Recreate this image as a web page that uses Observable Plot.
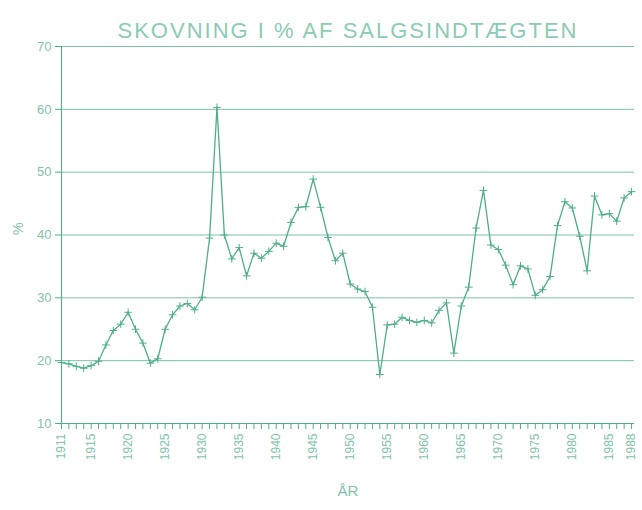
<!DOCTYPE html>
<html><head><meta charset="utf-8">
<script src="https://cdn.jsdelivr.net/npm/d3@7"></script>
<script src="https://cdn.jsdelivr.net/npm/@observablehq/plot@0.6"></script>
<style>body{margin:0;background:#fff}</style></head>
<body><div id="chart"></div>
<script>
const years = [1911,1912,1913,1914,1915,1916,1917,1918,1919,1920,
  1921,1922,1923,1924,1925,1926,1927,1928,1929,1930,
  1931,1932,1933,1934,1935,1936,1937,1938,1939,1940,
  1941,1942,1943,1944,1945,1946,1947,1948,1949,1950,
  1951,1952,1953,1954,1955,1956,1957,1958,1959,1960,
  1961,1962,1963,1964,1965,1966,1967,1968,1969,1970,
  1971,1972,1973,1974,1975,1976,1977,1978,1979,1980,
  1981,1982,1983,1984,1985,1986,1987,1988];
const values = [19.7,19.5,19.1,18.8,19.2,19.9,22.5,24.8,25.8,27.7,
  25.0,22.8,19.6,20.3,25.0,27.3,28.7,29.1,28.1,30.1,
  39.5,60.3,40.0,36.2,38.0,33.5,37.1,36.3,37.4,38.7,
  38.2,42.0,44.4,44.5,48.9,44.4,39.6,35.9,37.1,32.2,
  31.4,31.0,28.5,17.8,25.7,25.8,26.9,26.4,26.1,26.4,
  26.0,28.0,29.2,21.2,28.7,31.7,41.1,47.1,38.4,37.7,
  35.2,32.1,35.1,34.6,30.4,31.3,33.4,41.5,45.3,44.3,
  39.8,34.3,46.2,43.2,43.4,42.2,45.9,46.9];
const yTicks = [10,20,30,40,50,60,70];
const xLabelYears = [1911,1915,1920,1925,1930,1935,1940,1945,1950,1955,1960,1965,1970,1975,1980,1985,1988];
const title = "SKOVNING I % AF SALGSINDTÆGTEN";
const yLabel = "%";
const xLabel = "ÅR";

const data = years.map((year, i) => ({year, value: values[i]}));
const green = "#4fae8a";
const grid = "#7cc2a7";
const light = "#7fc3a9";
const font = "'Liberation Sans', 'DejaVu Sans', sans-serif";

const chart = Plot.plot({
  width: 642, height: 510,
  marginTop: 46, marginLeft: 61, marginRight: 8, marginBottom: 87,
  style: {fontFamily: font, color: green, background: "#fff"},
  x: {domain: [1911, 1988.4]},
  y: {domain: [10, 70]},
  marks: [
    Plot.ruleY(yTicks.filter(d => d > 10), {stroke: grid}),
    Plot.ruleY([10], {stroke: green}),
    Plot.ruleX([1911], {stroke: green}),
    Plot.axisY({ticks: yTicks, tickSize: 6, tickPadding: 4, fontSize: 13, label: null, fill: light}),
    Plot.axisX({ticks: years, tickSize: 6, tickPadding: 4, tickRotate: -90, fontSize: 12, label: null, fill: light,
      tickFormat: d => xLabelYears.includes(d) ? String(d) : ""}),
    Plot.line(data, {x: "year", y: "value", stroke: green, strokeWidth: 1.3}),
    Plot.dot(data, {x: "year", y: "value", symbol: "plus", r: 2.6, stroke: green, strokeWidth: 1}),
    Plot.text([title], {frameAnchor: "top", dy: -24, fontSize: 22, fill: "#8ccbb3", fontFamily: font, className: "ttl"}),
    Plot.text([yLabel], {frameAnchor: "left", dx: -43, rotate: -90, fontSize: 14, fill: light}),
    Plot.text([xLabel], {frameAnchor: "bottom", dy: 72, fontSize: 15, fill: light})
  ]
});
d3.select(chart).selectAll("g.ttl text").style("letter-spacing", "2px");
document.getElementById("chart").appendChild(chart);
</script>
</body></html>
